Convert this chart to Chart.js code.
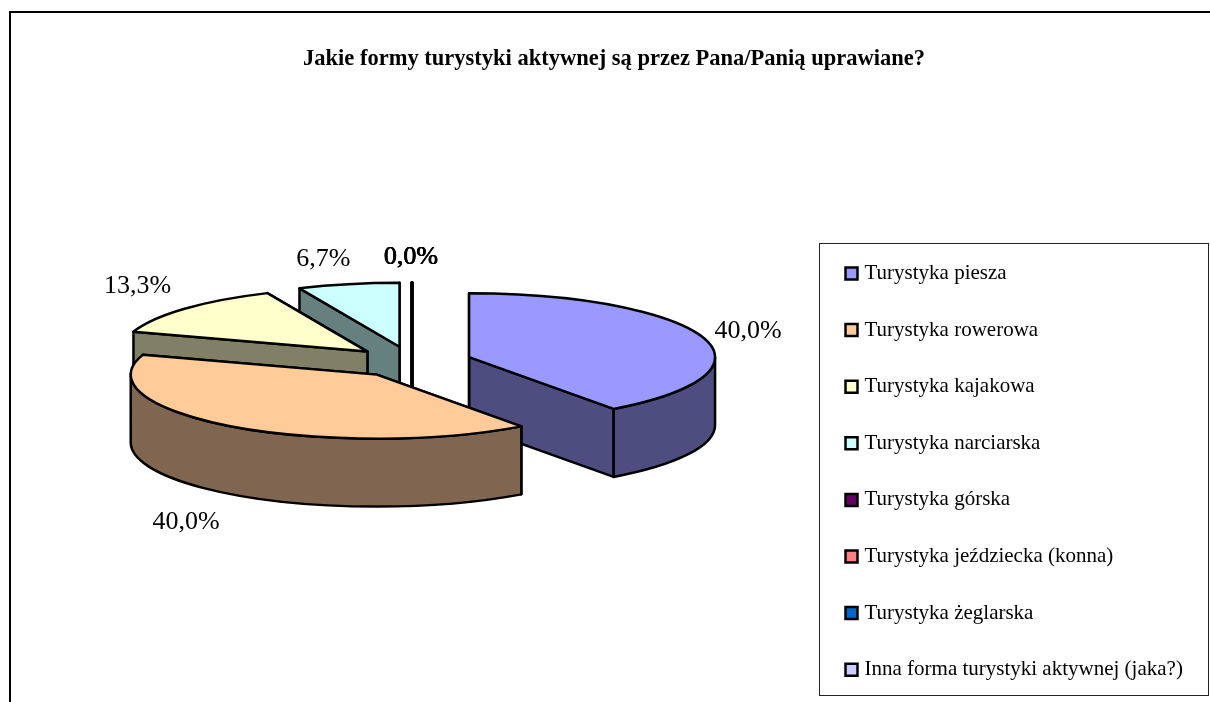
<!DOCTYPE html>
<html lang="pl">
<head>
<meta charset="utf-8">
<title>Formy turystyki aktywnej</title>
<style>html,body{margin:0;padding:0;background:#fff}canvas{display:block}</style>
<script src="https://cdn.jsdelivr.net/npm/chart.js@4/dist/chart.umd.min.js"></script>
</head>
<body>
<canvas id="c" width="1210" height="702" style="width:1210px;height:702px"></canvas>
<script>
const titleText = 'Jakie formy turystyki aktywnej są przez Pana/Panią uprawiane?';
const categories = ['Turystyka piesza','Turystyka rowerowa','Turystyka kajakowa','Turystyka narciarska','Turystyka górska','Turystyka jeździecka (konna)','Turystyka żeglarska','Inna forma turystyki aktywnej (jaka?)'];
const counts = [6,6,2,1,0,0,0,0];
const topColors = ['#9999FF','#FFCC99','#FFFFCC','#CCFFFF','#660066','#FF8080','#0066CC','#CCCCFF'];
const wallColors = ['#4D4D80','#806650','#808066','#668080','#330033','#804040','#003366','#666680'];

/* drawing style of the tilted, exploded pie */
const TILT = 0.26, DEPTH = 68, EXPLODE = 60, RADIUS = 246;
const FONT = '"Liberation Serif","Times New Roman",serif';
const labelNudge = [[45,-6],[-46,96],[-47,-23],[-25,-25],[-1,-25],[-1,-25],[-1,-25],[-1,-25]];
const paintOrder = [3,4,5,6,7,2,0,1];

const pie3d = {
  id: 'pie3d',
  beforeDraw(chart) {
    const c = chart.ctx;
    c.save();
    c.strokeStyle = '#000'; c.lineWidth = 2;
    c.beginPath(); c.moveTo(10,702); c.lineTo(10,12); c.lineTo(1210,12); c.stroke();
    c.lineWidth = 1; c.strokeStyle = '#222';
    c.fillStyle = '#fff';
    c.fillRect(819.5,243.5,389,452);
    c.strokeRect(819.5,243.5,389,452);
    c.restore();
  },
  afterLayout(chart) {
    /* pie centre from the plot box; title and legend placed over it */
    chart.chartArea = {left:0, right:824, top:22, bottom:702, width:824, height:680};
    const t = chart.titleBlock; t.left = 10; t.right = 1218; t.width = 1208;
    const l = chart.legend, pad = l.options.labels.padding;
    l.left = 849 - pad; l.right = 1208; l.width = l.right - l.left;
    l.top = 263 - pad; l.bottom = 2000; l.height = l.bottom - l.top;
  },
  beforeDatasetDraw(chart) {
    const c = chart.ctx, meta = chart.getDatasetMeta(0), arcs = meta.data;
    const total = counts.reduce((a,b)=>a+b,0);
    c.save();
    c.lineJoin = 'round'; c.lineCap = 'round';
    for (const i of paintOrder) {
      const a = arcs[i];
      const s = a.startAngle, e = a.endAngle, mid = (s+e)/2, R = a.outerRadius;
      const ox = a.x + EXPLODE*Math.cos(mid), oy = a.y + TILT*EXPLODE*Math.sin(mid);
      const ry = R*TILT;
      const px = t => ox + R*Math.cos(t), py = t => oy + ry*Math.sin(t);
      c.strokeStyle = '#000'; c.lineWidth = 2.5;
      if (counts[i] === 0) {
        c.lineWidth = 3;
        c.beginPath(); c.moveTo(px(e),py(e)); c.lineTo(ox,oy+DEPTH); c.stroke();
        continue;
      }
      c.fillStyle = wallColors[i];
      for (const t of [e,s]) {
        c.beginPath();
        c.moveTo(ox,oy); c.lineTo(px(t),py(t)); c.lineTo(px(t),py(t)+DEPTH); c.lineTo(ox,oy+DEPTH);
        c.closePath(); c.fill(); c.stroke();
      }
      /* outer wall: only the front half of the rim */
      const a1 = Math.max(s,0), a2 = Math.min(e,Math.PI);
      if (a2 > a1) {
        c.beginPath();
        c.ellipse(ox,oy,R,ry,0,a1,a2);
        c.ellipse(ox,oy+DEPTH,R,ry,0,a2,a1,true);
        c.closePath(); c.fill(); c.stroke();
      }
      /* top face: the library's own arc element, squashed */
      c.save();
      c.translate(a.x,a.y); c.scale(1,TILT); c.translate(-a.x,-a.y);
      c.translate(EXPLODE*Math.cos(mid),EXPLODE*Math.sin(mid));
      a.draw(c);
      c.restore();
      c.beginPath();
      c.moveTo(ox,oy); c.lineTo(px(s),py(s));
      c.ellipse(ox,oy,R,ry,0,s,e);
      c.closePath(); c.stroke();
    }
    /* value labels */
    c.fillStyle = '#000'; c.font = '26px '+FONT; c.textAlign = 'center'; c.textBaseline = 'middle';
    arcs.forEach((a,i) => {
      const mid = (a.startAngle+a.endAngle)/2, r = a.outerRadius + EXPLODE;
      const x = a.x + r*Math.cos(mid) + labelNudge[i][0];
      const y = a.y + TILT*r*Math.sin(mid) + labelNudge[i][1];
      const txt = (counts[i]/total*100).toFixed(1).replace('.',',') + '%';
      c.fillText(txt, x + (i-5.5)*0.25*(counts[i]===0?1:0), y);
    });
    c.restore();
    return false;
  }
};

new Chart(document.getElementById('c'), {
  type: 'pie',
  data: {
    labels: categories,
    datasets: [{
      data: counts,
      backgroundColor: topColors,
      borderWidth: 0,
      radius: RADIUS,
      clip: false
    }]
  },
  plugins: [pie3d],
  options: {
    responsive: false,
    animation: false,
    events: [],
    layout: {padding: 0},
    plugins: {
      tooltip: {enabled: false},
      title: {
        display: true, text: titleText, color: '#000', align: 'center',
        font: {family: FONT, size: 22.5, weight: 'bold'},
        padding: {top: 46, bottom: 0}
      },
      legend: {
        display: true, position: 'right', align: 'start',
        labels: {
          color: '#000', usePointStyle: true, boxWidth: 5, boxHeight: 12, padding: 35.6,
          font: {family: FONT, size: 21},
          generateLabels(chart) {
            return categories.map((text,i) => ({
              text, fillStyle: topColors[i], strokeStyle: '#000', lineWidth: 2.5,
              pointStyle: 'rect', fontColor: '#000', hidden: false, index: i
            }));
          }
        }
      }
    }
  }
});
</script>
</body>
</html>
